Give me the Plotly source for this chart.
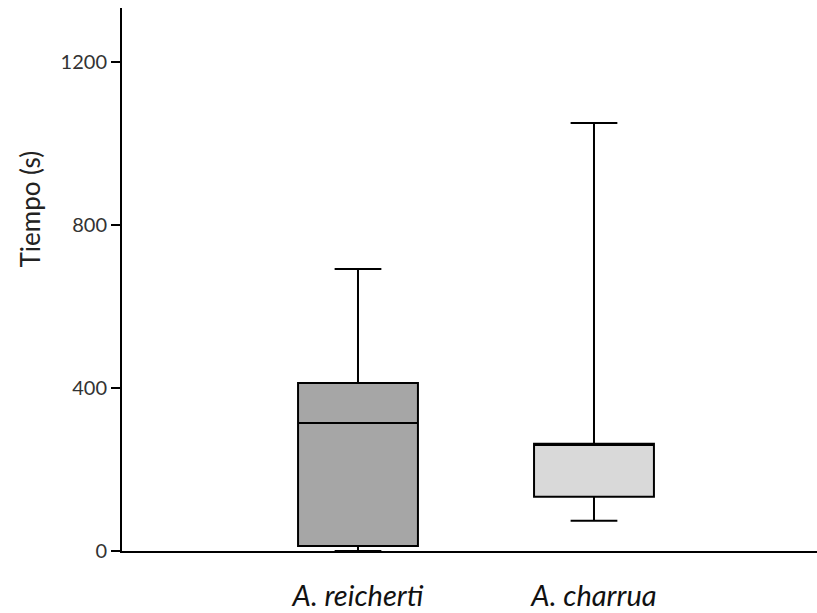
import plotly.graph_objects as go

# Summary statistics of time (s) per species
species = ["A. reicherti", "A. charrua"]
positions = [0, 1]
lower_whisker = [0, 74]
q1 = [12, 133]
median = [314, 260]
q3 = [412, 263]
upper_whisker = [692, 1050]
fill_colors = ["#a6a6a6", "#d9d9d9"]

y_ticks = [0, 400, 800, 1200]

fig = go.Figure()
for i, name in enumerate(species):
    fig.add_trace(go.Box(
        x=[positions[i]],
        q1=[q1[i]],
        median=[median[i]],
        q3=[q3[i]],
        lowerfence=[lower_whisker[i]],
        upperfence=[upper_whisker[i]],
        name=name,
        width=0.508,
        whiskerwidth=0.39,
        fillcolor=fill_colors[i],
        line=dict(color="black", width=2),
        boxpoints=False,
        hoverinfo="skip",
    ))

fig.update_layout(
    width=817,
    height=613,
    margin=dict(l=122, r=0, t=8, b=62),
    paper_bgcolor="white",
    plot_bgcolor="white",
    showlegend=False,
    boxmode="overlay",
    font=dict(family="Lato, Open Sans, sans-serif", color="#222222"),
    xaxis=dict(
        range=[-1.0, 1.945],
        tickvals=positions,
        ticktext=[f"<i>{s}</i>" for s in species],
        tickfont=dict(size=29, color="#111111"),
        ticks="",
        ticklabelstandoff=18,
        showline=True,
        linecolor="black",
        linewidth=2,
        showgrid=False,
        zeroline=False,
        fixedrange=True,
    ),
    yaxis=dict(
        range=[0, 1332],
        tickvals=y_ticks,
        tickfont=dict(size=20, color="#333333"),
        ticks="outside",
        ticklen=9,
        tickwidth=1.5,
        tickcolor="black",
        showline=True,
        linecolor="black",
        linewidth=2,
        showgrid=False,
        zeroline=False,
        fixedrange=True,
    ),
    annotations=[dict(
        text="Tiempo (s)",
        xref="paper", yref="paper",
        x=-0.133, y=0.63,
        xanchor="center", yanchor="middle",
        textangle=-90,
        showarrow=False,
        font=dict(size=26, color="#222222"),
    )],
)

fig.write_html("out.html")
